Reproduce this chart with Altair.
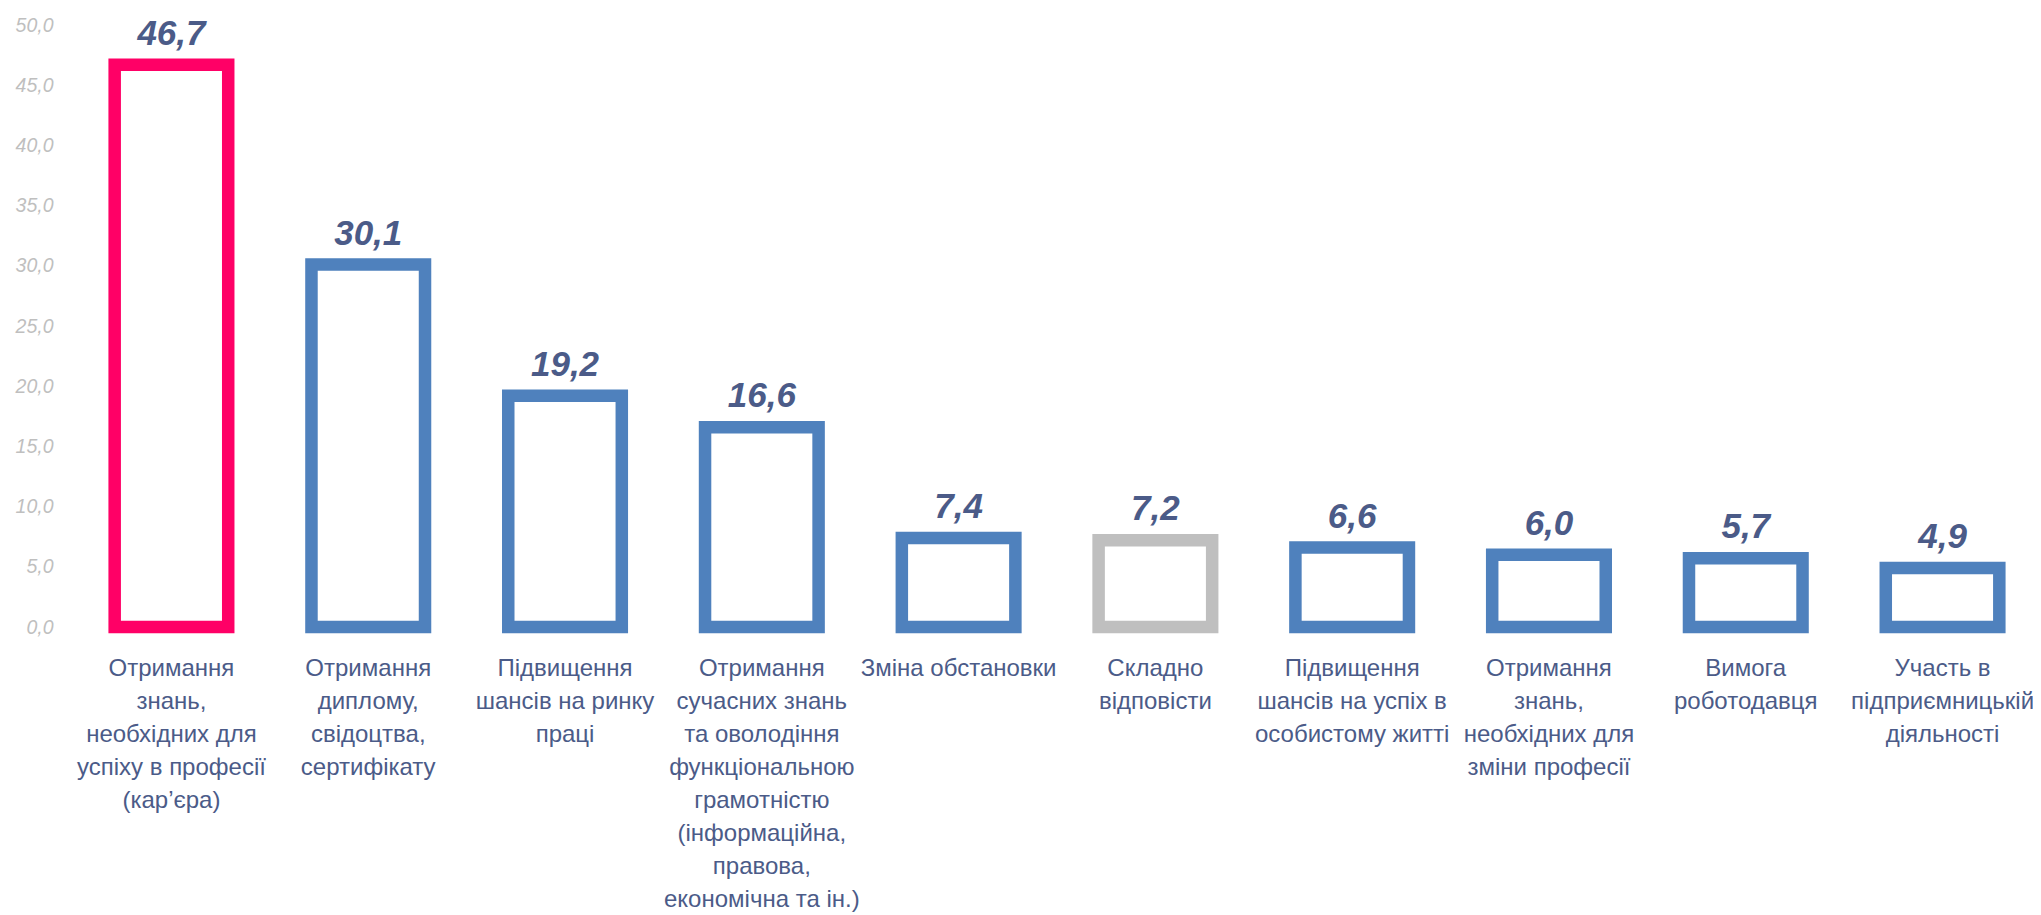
import altair as alt
import pandas as pd

categories = [
    "Отримання\nзнань,\nнеобхідних для\nуспіху в професії\n(кар’єра)",
    "Отримання\nдиплому,\nсвідоцтва,\nсертифікату",
    "Підвищення\nшансів на ринку\nпраці",
    "Отримання\nсучасних знань\nта оволодіння\nфункціональною\nграмотністю\n(інформаційна,\nправова,\nекономічна та ін.)",
    "Зміна обстановки",
    "Складно\nвідповісти",
    "Підвищення\nшансів на успіх в\nособистому житті",
    "Отримання\nзнань,\nнеобхідних для\nзміни професії",
    "Вимога\nроботодавця",
    "Участь в\nпідприємницькій\nдіяльності",
]
values = [46.7, 30.1, 19.2, 16.6, 7.4, 7.2, 6.6, 6.0, 5.7, 4.9]
bar_colors = ["#FF0066", "#4F81BD", "#4F81BD", "#4F81BD", "#4F81BD",
              "#BFBFBF", "#4F81BD", "#4F81BD", "#4F81BD", "#4F81BD"]
y_ticks = [0, 5, 10, 15, 20, 25, 30, 35, 40, 45, 50]

df = pd.DataFrame({"cat": categories, "value": values, "col": bar_colors})

FONT = "Liberation Sans, Arial, sans-serif"
TEXT_COLOR = "#4B5B88"

x = alt.X(
    "cat:N",
    sort=categories,
    scale=alt.Scale(paddingInner=0.423, paddingOuter=0.1),
    axis=alt.Axis(
        title=None,
        labelAngle=0,
        labelExpr="split(datum.label, '\\n')",
        labelFont=FONT,
        labelFontSize=24,
        labelLineHeight=33,
        labelColor=TEXT_COLOR,
        labelPadding=29,
        labelLimit=400,
        labelBaseline="top",
        ticks=False,
        domain=False,
        grid=False,
    ),
)
y = alt.Y(
    "value:Q",
    scale=alt.Scale(domain=[0, 50], nice=False, zero=True),
    axis=alt.Axis(
        title=None,
        values=y_ticks,
        labelExpr="replace(format(datum.value, '.1f'), '.', ',')",
        labelFont=FONT,
        labelFontSize=19.5,
        labelFontStyle="italic",
        labelColor="#BFBFBF",
        labelPadding=42,
        ticks=False,
        domain=False,
        grid=False,
    ),
)

bars = alt.Chart(df).mark_bar(
    fill="white", strokeWidth=12.5, strokeJoin="miter"
).encode(
    x=x,
    y=y,
    stroke=alt.Stroke("col:N", scale=None, legend=None),
)

texts = alt.Chart(df).transform_calculate(
    lab="replace(format(datum.value, '.1f'), '.', ',')"
).mark_text(
    font=FONT,
    fontSize=35,
    fontWeight="bold",
    fontStyle="italic",
    color=TEXT_COLOR,
    baseline="alphabetic",
    dy=-20,
).encode(
    x=alt.X("cat:N", sort=categories),
    y=alt.Y("value:Q"),
    text="lab:N",
)

chart = alt.layer(bars, texts).properties(
    width=1924,
    height=602,
    autosize=alt.AutoSizeParams(type="none"),
    padding={"left": 87, "top": 17, "right": 14, "bottom": 290},
    background="white",
).configure_view(stroke=None)

chart.save("out.html", embed_options={"renderer": "svg", "actions": False})
